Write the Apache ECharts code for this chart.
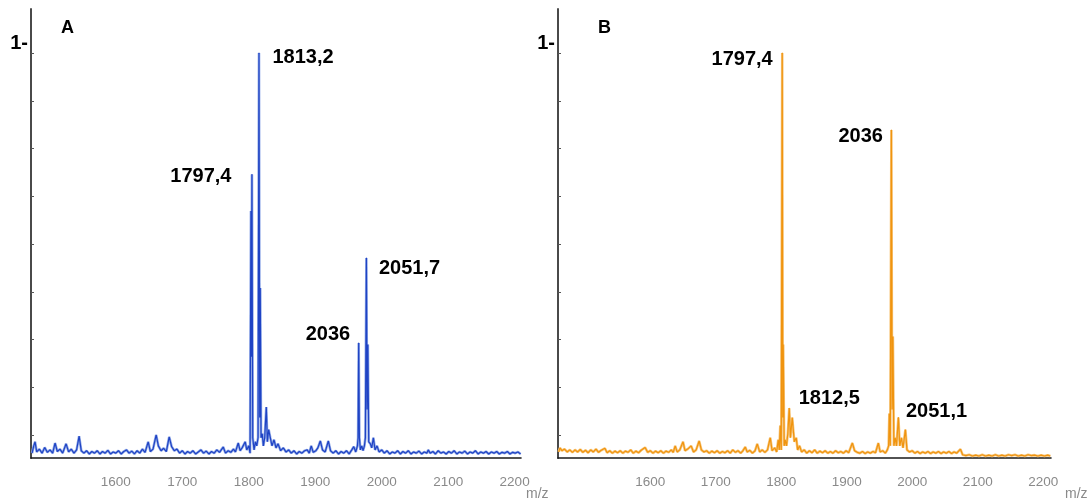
<!DOCTYPE html>
<html>
<head>
<meta charset="utf-8">
<script src="https://cdn.jsdelivr.net/npm/echarts@6/dist/echarts.min.js"></script>
<style>
html,body{margin:0;padding:0;background:#fff;}
#chart{width:1092px;height:501px;}
</style>
</head>
<body>
<div id="chart"></div>
<script>
// ---- data (m/z positions as read on the drawn axes, relative intensity) ----
const xTickValues = [1600, 1700, 1800, 1900, 2000, 2100, 2200];
const yTickValues = [1, 0.882, 0.764, 0.646, 0.528, 0.41, 0.292, 0.174, 0.056];
const yLabelValues = [1];
const panelTitles = ['A', 'B'];

const spectrumA = [
[1474,0.012],[1476.5,0.03],[1478.5,0.04],[1481,0.015],[1485,0.022],[1489,0.012],[1493,0.026],[1497,0.014],[1501,0.02],[1505,0.012],
[1508.6,0.037],[1512,0.016],[1516,0.022],[1520,0.012],[1525.2,0.035],[1529,0.015],[1533,0.022],[1537,0.012],[1541,0.02],[1544.8,0.054],
[1548,0.018],[1552,0.012],[1556,0.018],[1560,0.01],[1564,0.016],[1568,0.012],[1572,0.018],[1576,0.01],[1580,0.016],[1584,0.012],
[1588,0.019],[1592,0.01],[1596,0.015],[1600,0.012],[1604,0.018],[1608,0.01],[1612,0.016],[1616,0.02],[1620,0.012],[1624,0.017],
[1628,0.01],[1632,0.018],[1636,0.012],[1640,0.022],[1644,0.014],[1648.7,0.04],[1652,0.016],[1656,0.022],[1660.7,0.057],[1664,0.03],
[1668,0.018],[1672,0.024],[1676,0.016],[1680.3,0.052],[1684,0.028],[1688,0.018],[1692,0.022],[1696,0.012],[1700,0.018],[1704,0.01],
[1708,0.016],[1712,0.012],[1716,0.018],[1720,0.01],[1724,0.015],[1728,0.02],[1732,0.012],[1736,0.017],[1740,0.01],[1744,0.016],
[1748,0.012],[1752,0.02],[1756,0.014],[1761.6,0.027],[1765,0.012],[1769,0.018],[1773,0.014],[1777,0.022],[1780,0.015],[1784.2,0.037],
[1787,0.018],[1790,0.025],[1794.7,0.04],[1797,0.02],[1800,0.03],[1802,0.012],[1803.3,0.61],[1804,0.25],[1804.8,0.70],[1806,0.05],
[1808,0.02],[1810,0.04],[1812,0.03],[1814,0.05],[1815.4,1.0],[1816.5,0.1],[1817.3,0.42],[1818.5,0.05],[1820.3,0.06],[1822,0.03],
[1824,0.05],[1826.4,0.126],[1828,0.04],[1830,0.07],[1832.4,0.05],[1835,0.03],[1838,0.045],[1841,0.025],[1844,0.035],[1848,0.018],
[1852,0.025],[1856,0.015],[1860,0.02],[1864,0.012],[1868,0.018],[1872,0.01],[1876,0.016],[1880,0.012],[1884,0.018],[1888,0.02],
[1891,0.012],[1894,0.03],[1897,0.014],[1901,0.018],[1904,0.025],[1907.7,0.042],[1911,0.02],[1915,0.015],[1919.7,0.042],[1923,0.018],
[1927,0.012],[1931,0.018],[1935,0.01],[1939,0.016],[1943,0.012],[1947,0.018],[1951,0.01],[1955,0.02],[1958,0.028],[1961,0.015],
[1963.5,0.03],[1964.5,0.05],[1965.4,0.284],[1966.5,0.05],[1968,0.02],[1970,0.03],[1972,0.018],[1974,0.03],[1975.5,0.05],[1977,0.494],
[1978,0.12],[1979.2,0.28],[1980.5,0.04],[1983,0.035],[1985,0.025],[1987.5,0.05],[1990,0.02],[1993,0.03],[1996,0.015],[2000,0.02],
[2004,0.012],[2008,0.018],[2012,0.01],[2016,0.015],[2020,0.012],[2024,0.018],[2028,0.01],[2032,0.016],[2036,0.012],[2040,0.018],
[2044,0.01],[2048,0.015],[2052,0.012],[2056,0.017],[2060,0.01],[2064,0.015],[2068,0.012],[2070,0.02],[2073,0.012],[2077,0.016],
[2081,0.01],[2085,0.018],[2089,0.012],[2093,0.015],[2097,0.01],[2101,0.016],[2105,0.012],[2109,0.018],[2113,0.01],[2117,0.015],
[2121,0.012],[2125,0.017],[2129,0.01],[2133,0.015],[2137,0.012],[2141,0.018],[2145,0.01],[2149,0.015],[2153,0.012],[2157,0.016],
[2161,0.01],[2165,0.015],[2169,0.012],[2173,0.016],[2177,0.01],[2181,0.014],[2185,0.012],[2189,0.016],[2193,0.01],[2197,0.014],
[2201,0.012],[2205,0.015],[2209,0.01]
];

const spectrumB = [
[1460,0.015],[1462,0.025],[1465,0.018],[1469,0.022],[1473,0.015],[1477,0.02],[1481,0.014],[1485,0.02],[1489,0.015],[1493,0.021],
[1497,0.014],[1501,0.019],[1505,0.013],[1509,0.02],[1513,0.015],[1517,0.022],[1521,0.014],[1525,0.019],[1530.6,0.024],[1534,0.013],
[1538,0.018],[1542,0.012],[1546,0.017],[1550,0.013],[1554,0.018],[1558,0.012],[1562,0.017],[1566,0.014],[1570,0.02],[1574,0.012],
[1578,0.017],[1582,0.013],[1586,0.019],[1592,0.026],[1596,0.014],[1600,0.018],[1604,0.012],[1608,0.017],[1612,0.013],[1616,0.018],
[1620,0.012],[1624,0.017],[1628,0.014],[1632,0.02],[1635,0.014],[1638,0.03],[1641,0.015],[1645,0.02],[1650,0.04],[1653,0.018],
[1657,0.022],[1662.4,0.03],[1666,0.015],[1670,0.02],[1674.6,0.042],[1678,0.02],[1682,0.015],[1686,0.018],[1690,0.012],[1694,0.017],
[1698,0.013],[1702,0.018],[1706,0.012],[1710,0.016],[1714,0.013],[1718,0.018],[1722,0.012],[1726,0.02],[1730,0.014],[1734,0.018],
[1738,0.012],[1741,0.017],[1745,0.027],[1748,0.015],[1752,0.019],[1756,0.012],[1760,0.018],[1763.3,0.035],[1767,0.015],[1771,0.02],
[1775,0.014],[1779,0.02],[1783.2,0.05],[1786,0.018],[1790,0.025],[1793,0.015],[1795.4,0.045],[1797,0.02],[1798.5,0.08],[1800,0.02],
[1801.5,1.0],[1802.3,0.1],[1803,0.28],[1804.5,0.03],[1806,0.045],[1808,0.03],[1810,0.06],[1812.2,0.123],[1814,0.05],[1816.8,0.1],
[1818.3,0.07],[1820,0.04],[1822.9,0.05],[1825,0.02],[1828,0.03],[1831,0.015],[1835,0.02],[1839,0.012],[1843,0.018],[1847,0.013],
[1851,0.02],[1855,0.012],[1859,0.017],[1863,0.013],[1867,0.018],[1871,0.012],[1875,0.016],[1879,0.012],[1883,0.018],[1887,0.013],
[1891,0.016],[1895,0.012],[1899,0.018],[1903,0.013],[1908.6,0.037],[1912,0.018],[1916,0.014],[1920,0.012],[1924,0.016],[1928,0.011],
[1932,0.015],[1936,0.012],[1940,0.016],[1944,0.013],[1948.3,0.037],[1951,0.015],[1955,0.018],[1959,0.012],[1962,0.02],[1964,0.03],
[1965.1,0.11],[1966.5,0.03],[1968.2,0.81],[1969.3,0.12],[1970.5,0.30],[1972,0.03],[1974,0.05],[1976,0.03],[1978.9,0.1],[1981,0.03],
[1983.5,0.05],[1986,0.025],[1989.6,0.07],[1992,0.02],[1996,0.015],[2000,0.018],[2004,0.012],[2008,0.016],[2012,0.011],[2016,0.015],
[2020,0.012],[2024,0.016],[2028,0.011],[2032,0.015],[2036,0.012],[2040,0.016],[2044,0.011],[2048,0.015],[2052,0.012],[2056,0.016],
[2060,0.011],[2064,0.015],[2068,0.012],[2071,0.014],[2073.7,0.022],[2077,0.008],[2082,0.006],[2087,0.008],[2092,0.005],[2097,0.007],
[2102,0.005],[2107,0.008],[2112,0.005],[2117,0.007],[2122,0.005],[2127,0.008],[2132,0.005],[2137,0.007],[2142,0.005],[2147,0.008],
[2152,0.006],[2157,0.008],[2162,0.005],[2167,0.007],[2172,0.005],[2177,0.008],[2182,0.006],[2187,0.007],[2192,0.005],[2197,0.007],
[2202,0.005],[2207,0.007],[2211,0.005]
];

const peakMzA = [1815.4, 1804.8, 1977, 1965.4];
const peakHA = [1.0, 0.70, 0.494, 0.284];
const peakTextA = ['1813,2', '1797,4', '2051,7', '2036'];

const peakMzB = [1801.5, 1968.2, 1812.2, 1978.9];
const peakHB = [1.0, 0.81, 0.123, 0.1];
const peakTextB = ['1797,4', '2036', '1812,5', '2051,1'];

// ---- styling / layout ----
const FONT = '"Liberation Sans", Arial, Helvetica, sans-serif';
const peakLabelStyle = {color:'#000000', opacity:1, fontSize:20, fontWeight:'bold', fontFamily:FONT};
const labelPlaceA = [
  {position:'right', distance:13, offset:[0,4]},
  {position:'left', distance:20, offset:[0,2]},
  {position:'right', distance:12, offset:[0,11]},
  {position:'left', distance:8, offset:[0,-8]}
];
const labelPlaceB = [
  {position:'left', distance:9, offset:[0,6]},
  {position:'left', distance:8, offset:[0,7]},
  {position:'right', distance:9, offset:[0,-10]},
  {position:'right', distance:7, offset:[0,-6]}
];

function peakData(mz, h, txt, place) {
  return mz.map((m, i) => ({
    value: [m, h[i]],
    label: Object.assign({show:true, formatter: txt[i]}, peakLabelStyle, place[i])
  }));
}

const chart = echarts.init(document.getElementById('chart'), null, {renderer:'canvas'});

function xAxisCfg(gridIndex, min, max, nameGap) {
  return {
    type:'value', gridIndex, min, max,
    axisLine:{show:true, onZero:false, lineStyle:{color:'#1a1a1a', width:1.6}},
    axisTick:{show:false},
    splitLine:{show:false},
    axisLabel:{customValues:xTickValues, formatter:(v) => String(Math.round(v)), margin:17, color:'#8a8a8a', fontSize:13.5, fontFamily:FONT},
    name:'m/z', nameLocation:'end', nameGap, nameMoveOverlap:false,
    nameTextStyle:{color:'#8a8a8a', fontSize:14, fontFamily:FONT, align:'left', verticalAlign:'top', padding:[29,0,0,0]}
  };
}
function yAxisCfg(gridIndex) {
  return {
    type:'value', gridIndex, min:0, max:1.1086,
    axisLine:{show:true, onZero:false, lineStyle:{color:'#4a4a4a', width:2}},
    axisTick:{show:true, inside:true, length:3, customValues:yTickValues, lineStyle:{color:'#555', width:1}},
    splitLine:{show:false},
    axisLabel:{customValues:yLabelValues, formatter:() => '1-', margin:3, color:'#000', fontSize:20, fontWeight:'bold',
      fontFamily:FONT, verticalAlign:'bottom', lineHeight:20}
  };
}

function spectrumSeries(axis, data, light, dark) {
  return [
    {type:'line', xAxisIndex:axis, yAxisIndex:axis, data, showSymbol:false, symbol:'none',
      lineStyle:{color:light, width:2.6}, z:1, silent:true},
    {type:'line', xAxisIndex:axis, yAxisIndex:axis, data, showSymbol:false, symbol:'none',
      lineStyle:{color:dark, width:1.2}, z:2, silent:true}
  ];
}

function labelSeries(axis, data, dotColor) {
  return {type:'scatter', xAxisIndex:axis, yAxisIndex:axis, symbol:'circle', symbolSize:1,
    itemStyle:{color:dotColor, opacity:1}, label:peakLabelStyle,
    data, z:5, silent:true};
}

chart.setOption({
  animation:false,
  backgroundColor:'#ffffff',
  title:[
    {text:panelTitles[0], left:61, top:19, textStyle:{fontSize:18, fontWeight:'bold', color:'#000', fontFamily:FONT}, padding:0},
    {text:panelTitles[1], left:598, top:19, textStyle:{fontSize:18, fontWeight:'bold', color:'#000', fontFamily:FONT}, padding:0}
  ],
  grid:[
    {left:31, top:9, width:490, height:449, containLabel:false, outerBoundsMode:'none'},
    {left:558, top:9, width:493, height:449, containLabel:false, outerBoundsMode:'none'}
  ],
  xAxis:[ xAxisCfg(0, 1472.4, 2209.6, 5), xAxisCfg(1, 1459, 2212, 14) ],
  yAxis:[ yAxisCfg(0), yAxisCfg(1) ],
  series:[
    ...spectrumSeries(0, spectrumA, '#93abe8', '#1f43c4'),
    ...spectrumSeries(1, spectrumB, '#f7c77e', '#f0940f'),
    labelSeries(0, peakData(peakMzA, peakHA, peakTextA, labelPlaceA), '#1f43c4'),
    labelSeries(1, peakData(peakMzB, peakHB, peakTextB, labelPlaceB), '#f0940f')
  ]
});
</script>
</body>
</html>
